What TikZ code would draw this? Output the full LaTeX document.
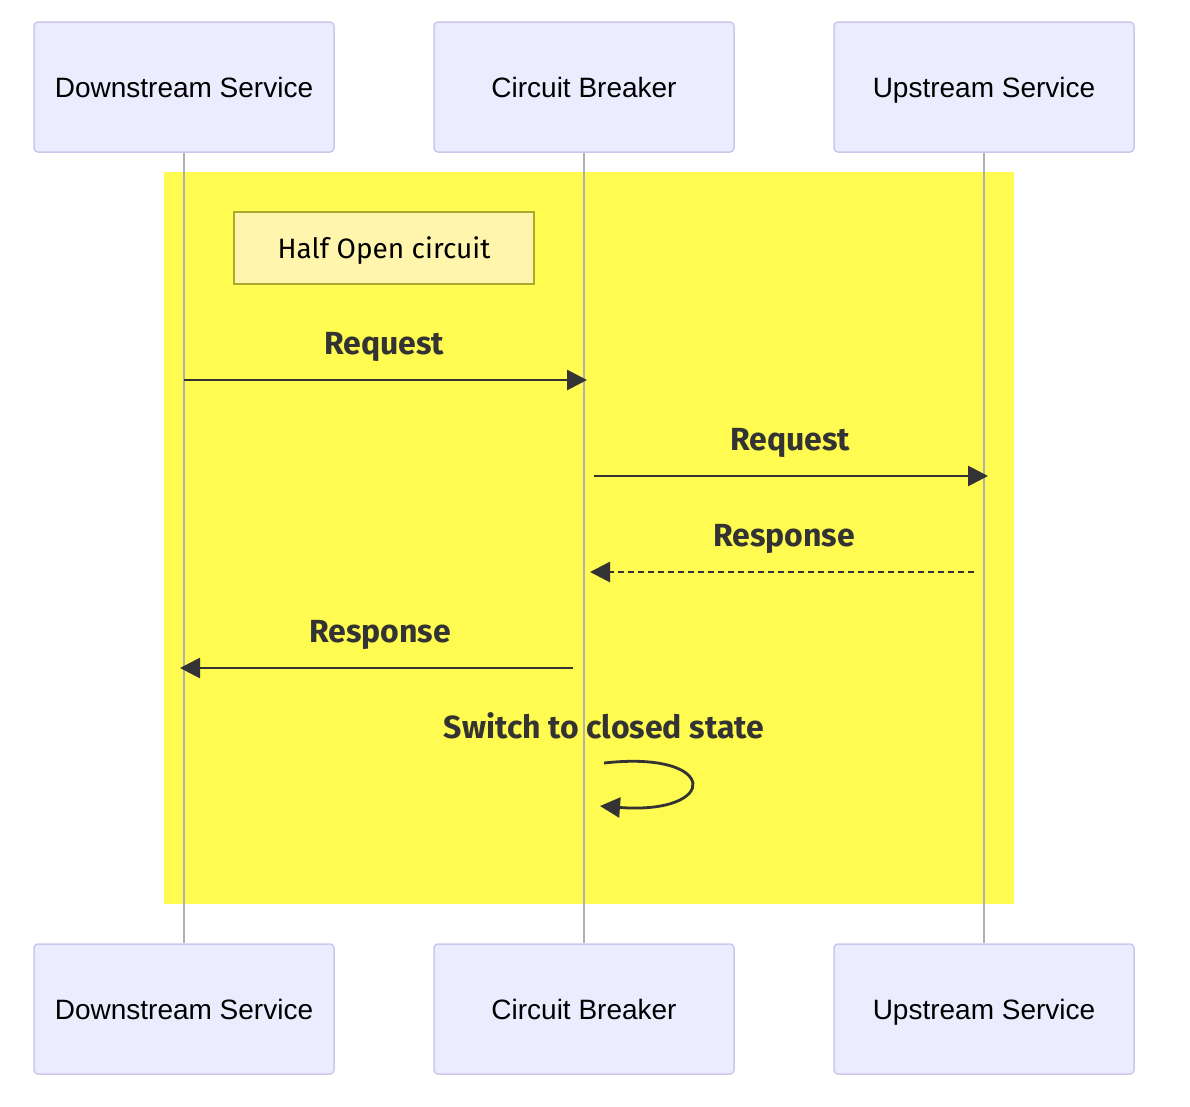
\documentclass[tikz,border=0pt]{standalone}
\usepackage{fontspec}
\setmainfont{Liberation Sans}
\newfontfamily\msgfont{Fira Sans}
\usetikzlibrary{arrows.meta}
\definecolor{actorfill}{HTML}{ECECFF}
\definecolor{actorborder}{HTML}{CFC6EE}
\definecolor{lifeline}{HTML}{B0B0B0}
\definecolor{boxyellow}{RGB}{255,251,80}
\definecolor{notefill}{HTML}{FFF5AD}
\definecolor{noteborder}{HTML}{AAAA33}
\definecolor{msgcol}{HTML}{333333}
\tikzset{
  actor/.style={draw=actorborder, fill=actorfill, line width=1.5pt, rounded corners=4pt,
    minimum width=300pt, minimum height=130pt, inner sep=0pt, text height=24pt, text depth=4pt,
    font=\fontsize{28}{32}\selectfont, text=black},
  notebox/.style={draw=noteborder, fill=notefill, line width=1.5pt,
    minimum width=300pt, minimum height=72pt, inner sep=0pt, text height=24pt, text depth=4pt,
    font=\msgfont\fontsize{28}{32}\selectfont, text=black},
  msglabel/.style={font=\msgfont\bfseries\fontsize{32}{36}\selectfont, text=msgcol, inner sep=0pt},
  life/.style={draw=lifeline, line width=1.5pt},
  msg/.style={draw=msgcol, line width=2.8pt, -{Triangle[length=20pt,width=20pt]}},
  reply/.style={msg, dash pattern=on 6pt off 4pt}
}
\begin{document}
\begin{tikzpicture}[x=1pt,y=-1pt]
\useasboundingbox (0,0) rectangle (1190,1106);
\fill[white] (0,0) rectangle (1190,1106);
% actors
\node[actor] (dt) at (184,87) {Downstream Service};
\node[actor] (ct) at (584,87) {Circuit Breaker};
\node[actor] (ut) at (984,87) {Upstream Service};
\node[actor] (db) at (184,1009) {Downstream Service};
\node[actor] (cb) at (584,1009) {Circuit Breaker};
\node[actor] (ub) at (984,1009) {Upstream Service};
% highlight box
\fill[boxyellow] (164,172) rectangle (1014,904);
% lifelines
\draw[life] (dt.south) -- (db.north);
\draw[life] (ct.south) -- (cb.north);
\draw[life] (ut.south) -- (ub.north);
% note
\node[notebox] (note) at (384,248) {Half Open circuit};
% message coordinates
\coordinate (m1a) at (184,380); \coordinate (m1b) at (587,380);
\coordinate (m2a) at (594,476); \coordinate (m2b) at (988,476);
\coordinate (m3a) at (974,572); \coordinate (m3b) at (590,572);
\coordinate (m4a) at (573,668); \coordinate (m4b) at (180,668);
\coordinate (s1) at (604,763); \coordinate (s2) at (600,806);
% messages
\node[msglabel] (l1) at (384,347) {Request};
\draw[msg] (m1a) -- (m1b);
\node[msglabel] (l2) at (790,443) {Request};
\draw[msg] (m2a) -- (m2b);
\node[msglabel] (l3) at (784,539) {Response};
\draw[reply] (m3a) -- (m3b);
\node[msglabel] (l4) at (380,635) {Response};
\draw[msg] (m4a) -- (m4b);
\node[msglabel] (l5) at (604,726) {Switch to closed state};
\draw[msg] (s1) .. controls (720,750) and (720,815) .. (s2);
\end{tikzpicture}
\end{document}
